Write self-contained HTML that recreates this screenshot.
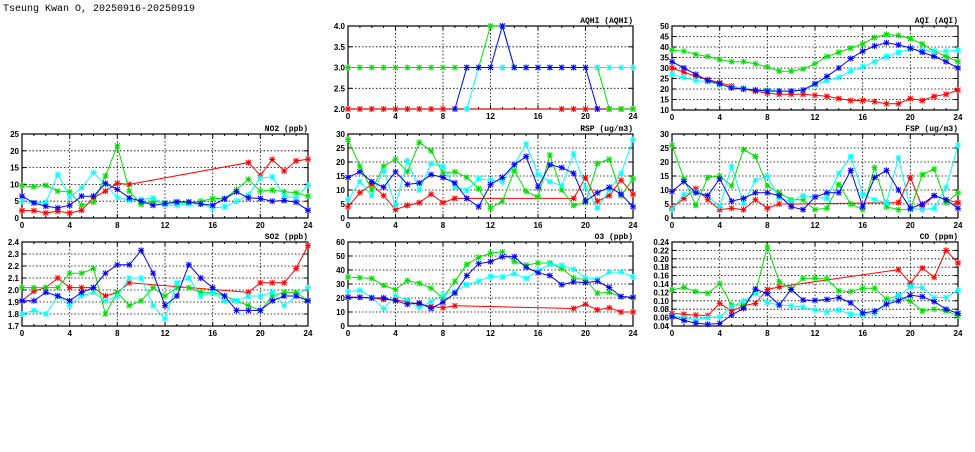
<!DOCTYPE html>
<html><head><meta charset="utf-8"><style>
body{margin:0;background:#fff;width:975px;height:447px;overflow:hidden}
svg text{font-family:"Liberation Sans",sans-serif;font-weight:bold;font-size:8px;fill:#000}
</style></head><body>
<svg id="s" width="975" height="447" xmlns="http://www.w3.org/2000/svg">
<text x="3" y="11" style="font-family:'Liberation Mono',monospace;font-weight:normal;font-size:10px">Tseung Kwan O, 20250916-20250919</text>
</svg>
<script>
var N=null;
var P=[
{t:"AQHI (AQHI)",x:[348,633],y:[26,109],mn:2,mx:4,st:0.5,f:1,d:[
[2,2,2,2,2,2,2,2,2,N,N,N,N,N,N,N,N,N,2,2,2,2,2,2,2],
[3,3,3,3,3,3,3,3,3,3,3,3,4,4,3,3,3,3,3,3,3,3,2,2,2],
[N,N,N,N,N,N,N,N,N,N,2,3,3,3,3,3,3,3,3,3,3,3,3,3,3],
[N,N,N,N,N,N,N,N,N,2,3,3,3,4,3,3,3,3,3,3,3,2,N,N,N]]},
{t:"AQI (AQI)",x:[672,958],y:[26,110],mn:10,mx:50,st:5,f:0,d:[
[30,28,26,24.5,23,21.5,20,19,18,17.5,17.5,17.5,17,16.5,15.5,14.5,14.5,14,13,13,15.5,14.5,16.5,17.5,19.5],
[38.5,38,36.5,35.5,34,33,33,32,30.5,28.5,28.5,29.5,32,35.5,37.5,39.5,41.5,44.5,46,45.5,44,41.5,38,35.5,33],
[27,25.5,24,23.5,22,21,20.5,19.5,19.5,19,19,19.5,22,24,25.5,28.5,30.5,33,35.5,37.5,39,38.5,38,38,38.5],
[33,30,27,24,22.5,20.5,20,19.5,19,19,19,19.5,22.5,26,30,34.5,38,40.5,42,41,39.5,37.5,35.5,33,30]]},
{t:"NO2 (ppb)",x:[22,308],y:[134,218],mn:0,mx:25,st:5,f:0,d:[
[2.2,2.2,1.5,2,1.5,2.3,6,8,10.3,10,N,N,N,N,N,N,N,N,N,16.5,12.7,17.4,14,17,17.5],
[9.6,9.3,9.7,8,7.8,3.8,4.7,12.5,21.5,8,4,5,4.5,4.5,4.5,5,5.8,5.8,8.5,11.5,8,8.3,7.8,7.5,6.5],
[5,4.5,4.7,13,6.2,9,13.5,10,6.2,5.2,5.5,6,4,3.8,4.2,4.2,3,3.3,5,6.8,12,12.2,6.5,6,9.7],
[6.5,4.5,3.5,3,3.8,6.5,6.5,10.3,8.5,6,5,3.8,4.3,4.8,4.8,4.2,3.8,5.7,7.8,6,5.8,5,5.2,4.7,2.3]]},
{t:"RSP (ug/m3)",x:[348,633],y:[134,218],mn:0,mx:30,st:5,f:0,d:[
[4,9,12,8,3,4.5,5.5,8.5,5.5,7,7,N,N,N,N,N,N,N,N,7,14.5,6,8,13.5,8.5],
[28,18.5,10,18.5,21,16.5,27,24,16,16.5,14.5,10.5,3.5,6,17,9.5,7.5,22.5,10,4.5,5.5,19.5,21,8,14],
[6.5,13,8,17,4.5,20.5,10,19.5,18.5,11,10,14,13.5,13,19,26.5,15.5,13,11.5,23,11,3.5,10,16,28],
[14.5,16.5,13,11,16.5,12,12.5,15.5,14.5,12.5,7,4,12,14.5,19,22,11,19,18,16,6,9,11,8.5,4]]},
{t:"FSP (ug/m3)",x:[672,958],y:[134,218],mn:0,mx:30,st:5,f:0,d:[
[3.5,7,10.5,6.5,3,3.5,3,6.5,3.5,5,5,N,N,N,N,N,N,N,N,5.5,14.5,4,8,6.5,5.5],
[26,14,4.5,14.5,15,11.5,24.5,22,11.5,9,6.5,6.5,3,3.5,12,5,3,18,4,3,3,15.5,17.5,5.5,9],
[3,8.5,9.5,8,4,18.5,5,13.5,15,7,6,8,7.5,7,16,22,8.5,6.5,5.5,21.5,3.5,3,3.5,11,26],
[9.5,13,9,8,14,6,7,9,9,8,4,3,7.5,9,9,17,4,14.5,17,10,3.5,5,8,6.5,3.5]]},
{t:"SO2 (ppb)",x:[22,308],y:[242,326],mn:1.7,mx:2.4,st:0.1,f:1,d:[
[1.91,1.99,2.02,2.1,2.02,2.02,2.02,1.95,1.98,2.06,N,N,N,N,N,N,N,N,N,1.98,2.06,2.06,2.06,2.18,2.37],
[2.02,2.02,2.02,2.02,2.14,2.14,2.18,1.8,1.98,1.87,1.91,2.02,1.95,2.02,2.02,1.98,1.98,1.95,1.91,1.87,1.83,1.95,1.98,1.98,1.91],
[1.8,1.83,1.8,1.95,1.87,1.95,1.98,1.91,1.95,2.1,2.1,1.87,1.76,2.06,2.1,1.95,1.98,1.91,1.91,1.95,1.95,1.98,1.87,1.95,2.02],
[1.91,1.91,1.98,1.95,1.91,1.98,2.02,2.14,2.21,2.21,2.33,2.14,1.87,1.95,2.21,2.1,2.02,1.95,1.83,1.83,1.83,1.91,1.95,1.95,1.91]]},
{t:"O3 (ppb)",x:[348,633],y:[242,326],mn:0,mx:60,st:10,f:0,d:[
[20.5,20.5,20,19,18.5,17.5,15.5,14,13,14.5,N,N,N,N,N,N,N,N,N,12.5,15.5,11.5,13,10,10],
[35,34.5,34,29,26,32.5,30.5,27,20,32,44,49,52,53,46,43.5,45,45,41,34.5,33,23.5,24,21,20.5],
[24.5,25.5,20.5,12.5,21.5,18.5,13,17.5,22,24.5,29.5,32,35.5,35,37.5,34,39.5,44,43.5,40.5,34.5,33.5,38.5,38.5,35],
[20.5,20.5,20,20,18,15.5,16.5,12.5,17,23.5,36,44.5,46,49.5,49.5,42,38,36,29.5,31.5,31,32,27.5,21,20.5]]},
{t:"CO (ppm)",x:[672,958],y:[242,326],mn:0.04,mx:0.24,st:0.02,f:2,d:[
[.07,.068,.066,.065,.094,.076,.088,.094,.127,.133,N,N,N,N,N,N,N,N,N,.174,.142,.178,.156,.22,.19],
[.126,.132,.122,.118,.141,.09,.09,.12,.228,.145,.128,.153,.154,.152,.124,.122,.13,.13,.104,.112,.099,.076,.08,.076,.064],
[.064,.06,.055,.06,.062,.086,.1,.117,.096,.09,.088,.085,.078,.073,.078,.068,.068,.07,.094,.11,.134,.131,.108,.108,.125],
[.062,.053,.047,.044,.046,.066,.082,.128,.117,.09,.127,.102,.101,.103,.108,.095,.071,.075,.092,.1,.113,.11,.098,.08,.07]]}
];
var C=["#ff0000","#00e000","#00ffff","#0000ff"];
var h="";
P.forEach(function(p){
 var x0=p.x[0],x1=p.x[1],y0=p.y[0],y1=p.y[1];
 function X(i){return x0+(x1-x0)*i/24}
 function Y(v){return y1-(y1-y0)*(v-p.mn)/(p.mx-p.mn)}
 var n=Math.round((p.mx-p.mn)/p.st);
 for(var k=0;k<=n;k++){var v=p.mn+k*p.st,yy=Y(v).toFixed(1);
  if(k>0&&k<n)h+='<line x1="'+x0+'" x2="'+x1+'" y1="'+yy+'" y2="'+yy+'" stroke="#000" stroke-width="0.8" stroke-dasharray="1.5,2"/>';
  h+='<line x1="'+x0+'" x2="'+(x0+4)+'" y1="'+yy+'" y2="'+yy+'" stroke="#000"/><line x1="'+(x1-4)+'" x2="'+x1+'" y1="'+yy+'" y2="'+yy+'" stroke="#000"/>';
  var lab=p.f==0?String(Math.round(v)):v.toFixed(p.f==1?1:2);
  h+='<text x="'+(x0-3)+'" y="'+(+yy+3)+'" text-anchor="end">'+lab+'</text>';}
 for(var i=0;i<=24;i++){var xx=X(i).toFixed(1);var L=i%4==0?4:2;
  if(i%4==0){ if(i>0&&i<24)h+='<line x1="'+xx+'" x2="'+xx+'" y1="'+y0+'" y2="'+y1+'" stroke="#000" stroke-width="0.8" stroke-dasharray="1.5,2"/>';
   h+='<text x="'+xx+'" y="'+(y1+10)+'" text-anchor="middle">'+i+'</text>';}
  h+='<line x1="'+xx+'" x2="'+xx+'" y1="'+y1+'" y2="'+(y1-L)+'" stroke="#000"/><line x1="'+xx+'" x2="'+xx+'" y1="'+y0+'" y2="'+(y0+L)+'" stroke="#000"/>';}
 h+='<rect x="'+x0+'" y="'+y0+'" width="'+(x1-x0)+'" height="'+(y1-y0)+'" fill="none" stroke="#000" stroke-width="1.2"/>';
 h+='<text x="'+x1+'" y="'+(y0-3)+'" text-anchor="end" style="font-family:\'Liberation Mono\',monospace">'+p.t+'</text>';
 p.d.forEach(function(s,si){
  var pts=[],m="";
  s.forEach(function(v,i){if(v===null)return;var a=X(i),b=Y(v);pts.push(a.toFixed(1)+","+b.toFixed(1));
   m+='M'+(a-2.5)+','+(b-2.5)+'L'+(a+2.5)+','+(b+2.5)+'M'+(a-2.5)+','+(b+2.5)+'L'+(a+2.5)+','+(b-2.5)+'M'+(a-3)+','+b+'L'+(a+3)+','+b+'M'+a+','+(b-3)+'L'+a+','+(b+3);});
  h+='<polyline points="'+pts.join(" ")+'" fill="none" stroke="'+C[si]+'" stroke-width="1"/>';
  h+='<path d="'+m+'" stroke="'+C[si]+'" stroke-width="1" fill="none"/>';
 });
});
document.getElementById("s").insertAdjacentHTML("beforeend",h);
</script>
</body></html>
